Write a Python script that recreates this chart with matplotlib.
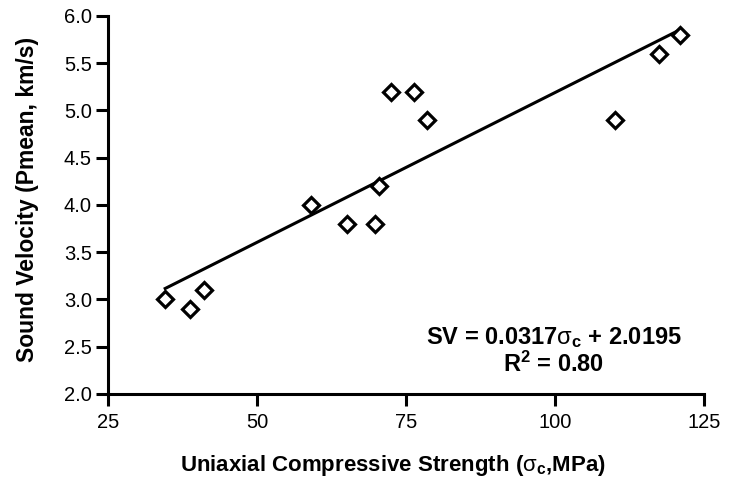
import numpy as np
import matplotlib.pyplot as plt

plt.rcParams['font.family'] = ['Liberation Sans', 'DejaVu Sans']
plt.rcParams['mathtext.fontset'] = 'custom'
plt.rcParams['mathtext.rm'] = 'Liberation Sans'
plt.rcParams['mathtext.bf'] = 'Liberation Sans:bold'
plt.rcParams['mathtext.it'] = 'Liberation Sans:italic'

# uniaxial compressive strength (MPa) vs sound velocity (km/s)
ucs = [34.6, 38.8, 41.1, 59.1, 65.1, 69.8, 70.5, 72.5, 76.3, 78.5, 110.0, 117.4, 121.0]
sv = [3.0, 2.9, 3.1, 4.0, 3.8, 3.8, 4.2, 5.2, 5.2, 4.9, 4.9, 5.6, 5.8]

slope, intercept = 0.0317, 2.0195
x_ticks = [25, 50, 75, 100, 125]
y_ticks = [2.0, 2.5, 3.0, 3.5, 4.0, 4.5, 5.0, 5.5, 6.0]

fig = plt.figure(figsize=(7.32, 4.79), dpi=100)
ax = fig.add_axes([0.1475, 0.1775, 0.8142, 0.7891])

xfit = np.array([min(ucs), max(ucs)])
ax.plot(xfit, slope * xfit + intercept, color='black', lw=2.2, zorder=2)
ax.plot(ucs, sv, linestyle='none', marker='D', ms=8.3, mfc='white',
        mec='black', mew=2.3, zorder=3, clip_on=False)

ax.set_xlim(25, 125)
ax.set_ylim(2.0, 6.0)
ax.set_xticks(x_ticks)
ax.set_yticks(y_ticks)
ax.set_yticklabels([f"{v:.1f}" for v in y_ticks])
ax.tick_params(direction='out', length=8.5, width=2.2, labelsize=14.5, pad=3)
ax.tick_params(axis='x', pad=5)

for side in ['top', 'right']:
    ax.spines[side].set_visible(False)
for side in ['left', 'bottom']:
    ax.spines[side].set_linewidth(2.2)

ax.set_xlabel(r"Uniaxial Compressive Strength ($\mathrm{\sigma}_{\mathbf{c}}$,MPa)",
              fontsize=16, fontweight='bold', labelpad=5)
ax.xaxis.set_label_coords(0.478, -0.155)
ax.set_ylabel("Sound Velocity (Pmean, km/s)", fontsize=16.5,
              fontweight='bold', labelpad=8)
ax.yaxis.set_label_coords(-0.115, 0.516)

ax.text(99.8, 2.60, r"SV = 0.0317$\mathrm{\sigma}_{\mathbf{c}}$ + 2.0195", ha='center',
        va='center', fontsize=17, fontweight='bold')
ax.text(99.8, 2.31, r"R$^{\mathbf{2}}$ = 0.80", ha='center', va='center',
        fontsize=17, fontweight='bold')

fig.savefig('out.png', dpi=100)
